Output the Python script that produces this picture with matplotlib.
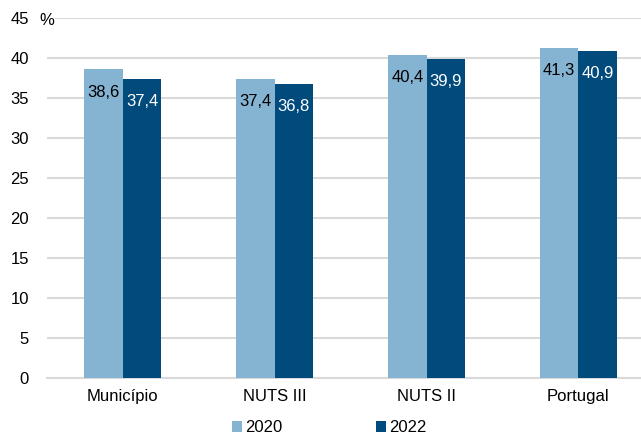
import matplotlib
matplotlib.use("Agg")
import matplotlib.pyplot as plt
import numpy as np

categories = ["Município", "NUTS III", "NUTS II", "Portugal"]
years = ["2020", "2022"]
values_2020 = [38.6, 37.4, 40.4, 41.3]
values_2022 = [37.4, 36.8, 39.9, 40.9]
yticks = [0, 5, 10, 15, 20, 25, 30, 35, 40, 45]

c2020 = "#85B3D2"
c2022 = "#004A7C"

plt.rcParams['font.family'] = ['Liberation Sans', 'DejaVu Sans']
fs = 12
fig = plt.figure(figsize=(6.41, 4.34), dpi=100)
ax = fig.add_axes([47/641, (434-378)/434, 594/641, 360/434])

x = np.arange(len(categories))
w = 0.253
b1 = ax.bar(x - w/2, values_2020, w, color=c2020, label=years[0], zorder=3)
b2 = ax.bar(x + w/2, values_2022, w, color=c2022, label=years[1], zorder=3)

for rect, v in zip(b1, values_2020):
    ax.annotate(f"{v:.1f}".replace(".", ","), (rect.get_x() + rect.get_width()/2, v),
                xytext=(0, -23), textcoords="offset pixels", ha="center", va="center",
                fontsize=fs, color="black", zorder=4)
for rect, v in zip(b2, values_2022):
    ax.annotate(f"{v:.1f}".replace(".", ","), (rect.get_x() + rect.get_width()/2, v),
                xytext=(0, -23), textcoords="offset pixels", ha="center", va="center",
                fontsize=fs, color="white", zorder=4)

ax.set_xlim(-0.5, -0.5 + 594/151.8)
ax.set_ylim(0, 45)
ax.set_yticks(yticks)
ax.set_yticklabels([str(t) for t in yticks], fontsize=fs)
ax.set_xticks(x)
ax.set_xticklabels(categories, fontsize=fs)
ax.tick_params(axis="y", length=0, pad=13)
ax.tick_params(axis="x", length=0, pad=8)
ax.grid(axis="y", color="#D9D9D9", linewidth=1.5, zorder=0)
for s in ["top", "right", "left"]:
    ax.spines[s].set_visible(False)
ax.spines["bottom"].set_color("#D9D9D9")
ax.spines["bottom"].set_linewidth(1.5)

fig.text(39/641, 1 - 19/434, "%", fontsize=fs, ha="left", va="center_baseline",
         bbox=dict(facecolor="white", edgecolor="none", pad=1))

leg = fig.legend(handles=[b1, b2], labels=years, loc="center", bbox_to_anchor=(329/641, 1 - 428/434),
                 ncol=2, frameon=False, fontsize=fs, handlelength=0.6, handleheight=0.6,
                 handletextpad=0.2, columnspacing=5.6)

fig.savefig("out.png", dpi=100)
